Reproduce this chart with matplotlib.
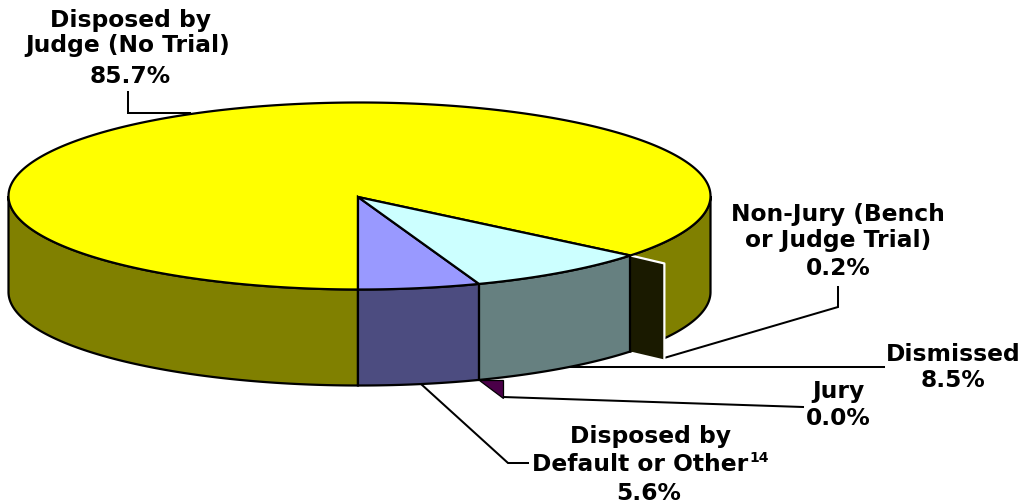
"""Tilted pie of case dispositions, drawn in pixel coordinates."""

import matplotlib

matplotlib.use("Agg")
import matplotlib.pyplot as plt
import numpy as np

categories = ["Default or Other", "Jury", "Dismissed", "Non-Jury", "Judge"]
shares = [5.6, 0.0, 8.5, 0.2, 85.7]

top_colors = ["#9999FF", "#660066", "#CCFFFF", "#FFFF99", "#FFFF00"]
side_colors = ["#4C4C80", "#4A0048", "#668080", "#1A1A00", "#808000"]

CX, CY = 359.5, 196.0
RX, RY = 351.0, 93.5
DEPTH = 96.0
FIRST_ANGLE = -0.25
EDGE = 1.6
FONT = 16.8


def rim(deg, drop=0.0):
    """Rim point(s) for an angle measured counter-clockwise from the bottom."""
    a = np.radians(deg)
    return CX + RX * np.sin(a), CY + RY * np.cos(a) + drop


def arc(start, end, drop=0.0):
    n = max(2, int(abs(end - start) * 2))
    x, y = rim(np.linspace(start, end, n), drop)
    return np.column_stack([x, y])


def side(ax, start, end, color):
    pts = np.vstack([arc(start, end), arc(start, end, DEPTH)[::-1]])
    ax.fill(pts[:, 0], pts[:, 1], fc=color, ec="black", lw=EDGE)


fig = plt.figure(figsize=(10.23, 5.03), dpi=100)
ax = fig.add_axes([0, 0, 1, 1])
ax.set_xlim(0, 1023)
ax.set_ylim(503, 0)
ax.axis("off")

bounds = FIRST_ANGLE + np.concatenate([[0], np.cumsum(shares)]) * 3.6
apex = [358.0, 197.0]

# leader lines sit under the pie
leaders = [
    ([128, 128, 190], [92, 113, 113]),
    ([664, 838, 838], [358, 307, 287]),
    ([570, 884], [367, 367]),
    ([503, 803], [397, 407]),
    ([421, 508, 528], [384, 463, 463]),
]
for xs, ys in leaders:
    ax.plot(xs, ys, color="black", lw=1.45, zorder=0.5, solid_joinstyle="miter")

# walls: back to front so the nearer slices cover the far ones
side(ax, bounds[3], 90, side_colors[4])
side(ax, 270, bounds[5], side_colors[4])
side(ax, bounds[0], bounds[1], side_colors[0])
side(ax, bounds[2], bounds[3], side_colors[2])

# cut faces of the two pulled-out thin slices
px, py = rim(bounds[3])
face_x = [px, px + 34, px + 34, px]
face_y = [py, py + 8, py + 8 + DEPTH, py + DEPTH]
ax.fill(face_x, face_y, fc=side_colors[3], ec="none", zorder=2)
ax.plot(face_x[:3], face_y[:3], color="white", lw=EDGE, zorder=3)
ax.plot([px, px], [py, py + DEPTH], color="black", lw=EDGE, zorder=3)

jx, jy = rim(bounds[1], DEPTH)
ax.fill([jx, jx + 24, jx + 24], [jy, jy, jy + 18], fc=side_colors[1],
        ec="black", lw=0.9, zorder=1)

# top of the pie: the 0.2% sliver merges into the big slice's edge line
for start, end, color in [(bounds[3], bounds[5], top_colors[4]),
                          (bounds[0], bounds[1], top_colors[0]),
                          (bounds[2], bounds[3], top_colors[2])]:
    pts = np.vstack([apex, arc(start, end)])
    ax.fill(pts[:, 0], pts[:, 1], fc=color, ec="black", lw=EDGE, zorder=4)

labels = [
    ("Disposed by", 130, 27),
    ("Judge (No Trial)", 128, 52),
    ("85.7%", 130, 83),
    ("Non-Jury (Bench", 838, 221),
    ("or Judge Trial)", 838, 247),
    ("0.2%", 838, 275),
    ("Dismissed", 953, 361),
    ("8.5%", 953, 387),
    ("Jury", 838, 398),
    ("0.0%", 838, 425),
    ("Disposed by", 650, 443),
    ("Default or Other", 640, 471),
    ("5.6%", 649, 500),
]
for text, x, y in labels:
    ax.text(x, y, text, ha="center", va="baseline", fontsize=FONT, fontweight="bold",
            family="DejaVu Sans", color="black")
ax.text(749, 462, "14", ha="left", va="baseline", fontsize=10, fontweight="bold",
        family="DejaVu Sans", color="black")

fig.savefig("out.png", dpi=100)
